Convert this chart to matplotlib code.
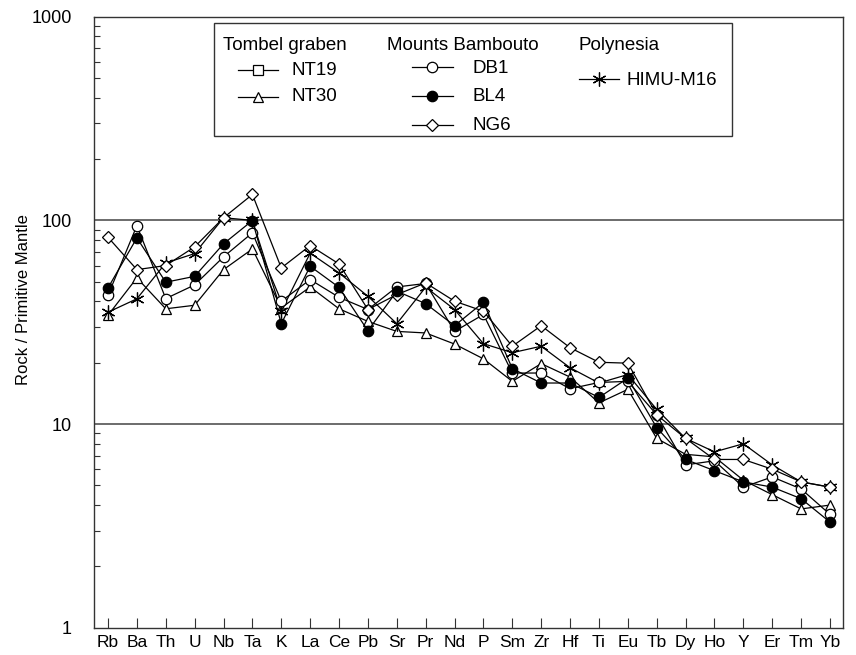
import matplotlib
matplotlib.use("Agg")
import matplotlib.pyplot as plt
from matplotlib.lines import Line2D
from matplotlib.patches import Rectangle
from matplotlib.ticker import LogLocator, NullFormatter, FixedLocator
import numpy as np

plt.rcParams['font.family'] = ['Liberation Sans', 'DejaVu Sans']

# Primitive-mantle normalised trace elements
elements = ["Rb", "Ba", "Th", "U", "Nb", "Ta", "K", "La", "Ce", "Pb", "Sr", "Pr", "Nd",
            "P", "Sm", "Zr", "Hf", "Ti", "Eu", "Tb", "Dy", "Ho", "Y", "Er", "Tm", "Yb"]

nt30 = [34.2, 52.2, 36.8, 38.3, 57.3, 72.4, 37.2, 47.1, 36.8, 31.9, 28.5, 28.0, 24.7,
        20.9, 16.2, 19.8, 17.0, 12.7, 14.8, 8.5, 7.1, 6.9, 5.3, 4.5, 3.83, 4.0]
db1 = [42.9, 94.2, 41.3, 48.2, 66.2, 86.9, 40.1, 51.2, 41.9, 36.5, 47.1, 49.0, 28.5,
       34.5, 17.8, 17.8, 14.9, 16.0, 16.2, 11.1, 6.3, 6.6, 4.9, 5.5, 4.8, 3.6]
bl4 = [46.6, 82.0, 49.7, 53.1, 76.7, 99.8, 31.1, 59.5, 46.9, 28.7, 44.9, 39.0, 30.4,
       39.6, 18.7, 15.9, 15.9, 13.5, 16.8, 9.6, 6.7, 5.9, 5.2, 4.9, 4.3, 3.3]
ng6 = [82.6, 57.3, 60.0, 74.1, 103.0, 134.0, 58.4, 75.2, 61.1, 36.5, 43.2, 49.3, 40.1,
       35.8, 24.1, 30.4, 23.7, 20.1, 19.9, 11.1, 8.5, 6.7, 6.7, 6.0, 5.2, 4.9]
himu = [35.4, 41.2, 61.8, 68.7, 103.0, 100.0, 35.8, 69.0, 55.2, 42.4, 31.1, 47.0, 36.5,
        24.8, 22.4, 24.1, 18.9, 15.9, 17.5, 11.8, 8.5, 7.3, 8.0, 6.3, 5.2, 4.9]

W, H = 856, 655
fig = plt.figure(figsize=(W / 100, H / 100), dpi=100)
ax = fig.add_axes([94 / W, 1 - 627.7 / H, (842.7 - 94) / W, (627.7 - 16.7) / H])

x = np.arange(len(elements))
ms = 7.5
styles = {
    "NT19": dict(marker='s', mfc='white'),
    "NT30": dict(marker='^', mfc='white'),
    "DB1": dict(marker='o', mfc='white'),
    "BL4": dict(marker='o', mfc='black'),
    "NG6": dict(marker='D', mfc='white', ms=6.5),
    "HIMU-M16": dict(marker=(6, 2, 0), mfc='black', ms=10),
}
series = [("NT30", nt30), ("HIMU-M16", himu), ("DB1", db1), ("NG6", ng6), ("BL4", bl4)]
for name, vals in series:
    st = dict(color='black', lw=0.9, ms=ms, mec='black', mew=0.9)
    st.update(styles[name])
    ax.plot(x, vals, **st, zorder=3)

ax.set_yscale('log')
ax.set_ylim(1, 1000)
ax.set_xlim(-0.485, 25.44)

ax.yaxis.set_major_locator(FixedLocator([1, 10, 100, 1000]))
ax.yaxis.set_minor_locator(LogLocator(base=10, subs=np.arange(2, 10)))
ax.yaxis.set_minor_formatter(NullFormatter())
ax.set_yticklabels(["1", "10", "100", "1000"])
ax.tick_params(axis='y', which='major', length=0, pad=16, labelsize=13)
ax.tick_params(axis='y', which='minor', direction='in', length=4.5, width=0.8, color='#333333')
ax.set_xticks(x)
ax.set_xticklabels(elements)
ax.tick_params(axis='x', direction='in', length=7.5, width=0.8, pad=5, labelsize=12.5,
               color='#333333')

for v in (10, 100):
    ax.axhline(v, color='#444444', lw=1.1, zorder=1)
for s in ax.spines.values():
    s.set_color('#333333')
    s.set_linewidth(1.0)

ax.set_ylabel("Rock / Primitive Mantle", fontsize=12)
ax.yaxis.set_label_coords(-(94 - 24) / (842.7 - 94), 1 - (300 - 16.7) / 611)
ax.yaxis.label.set_va('center')


# legend drawn by hand, in pixel coordinates of the figure
def fx(px):
    return px / W


def fy(py):
    return 1 - py / H


fig.patches.append(Rectangle((fx(214.3), fy(135.7)), fx(731.7) - fx(214.3), fy(23.3) - fy(135.7),
                             transform=fig.transFigure, fill=True, facecolor='white',
                             edgecolor='#333333', lw=1.0, zorder=5))
fs = 13.5
for label, px in [("Tombel graben", 223), ("Mounts Bambouto", 386.7), ("Polynesia", 578.3)]:
    fig.text(fx(px), fy(50), label, fontsize=fs, va='baseline', ha='left', zorder=6)

entries = [("NT19", 238, 278, 69.7, 291.7, 75),
           ("NT30", 238, 278, 96.7, 291.7, 100.7),
           ("DB1", 411.7, 452.7, 66.7, 473, 73.3),
           ("BL4", 411.7, 452.7, 96, 473, 101),
           ("NG6", 411.7, 452.7, 125, 473, 130),
           ("HIMU-M16", 579, 619, 79.3, 626, 85)]
for name, x0, x1, yl, xt, yt in entries:
    fig.lines.append(Line2D([fx(x0), fx(x1)], [fy(yl), fy(yl)], transform=fig.transFigure,
                            color='black', lw=0.9, zorder=6))
    st = dict(color='black', ms=ms, mec='black', mew=0.9)
    st.update(styles[name])
    fig.lines.append(Line2D([fx((x0 + x1) / 2)], [fy(yl)], transform=fig.transFigure,
                            ls='none', zorder=7, **st))
    fig.text(fx(xt), fy(yt), name, fontsize=fs, va='baseline', ha='left', zorder=6)

fig.savefig("out.png", dpi=100)
